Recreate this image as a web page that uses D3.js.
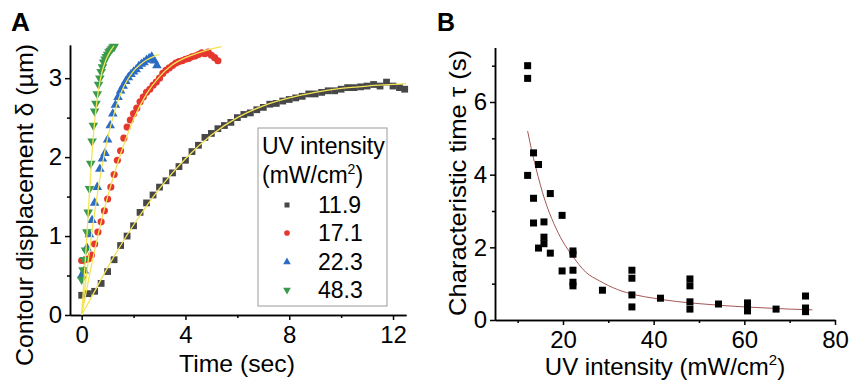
<!DOCTYPE html>
<html>
<head>
<meta charset="utf-8">
<script src="https://cdn.jsdelivr.net/npm/d3@7"></script>
<style>
  body { margin: 0; background: #fff; }
  text { font-family: "Liberation Sans", Arial, sans-serif; }
</style>
</head>
<body>
<div id="chart"></div>
<script>
// ---- Panel A data: contour displacement vs time, per UV intensity ----
var timeGray = [0, 0.25, 0.5, 0.75, 1.0, 1.25, 1.5, 1.75, 2.0, 2.25, 2.5, 2.75, 3.0, 3.25, 3.5, 3.75, 4.0, 4.25, 4.5, 4.75,
    5.0, 5.25, 5.5, 5.75, 6.0, 6.25, 6.5, 6.75, 7.0, 7.25, 7.5, 7.75, 8.0, 8.25, 8.5, 8.75, 9.0, 9.25, 9.5, 9.75,
    10.0, 10.25, 10.5, 10.75, 11.0, 11.25, 11.5, 11.75, 12.0, 12.25, 12.45];
var dispGray = [0.25, 0.27, 0.30, 0.40, 0.55, 0.70, 0.88, 1.00, 1.13, 1.30, 1.42, 1.52, 1.62, 1.70, 1.80, 1.88, 1.96, 2.07, 2.15, 2.25,
    2.30, 2.36, 2.40, 2.44, 2.50, 2.54, 2.56, 2.60, 2.63, 2.67, 2.68, 2.71, 2.73, 2.75, 2.77, 2.80, 2.80, 2.82, 2.84, 2.84,
    2.86, 2.88, 2.88, 2.89, 2.90, 2.92, 2.90, 2.95, 2.90, 2.88, 2.86];

var timeRed = [0, 0.125, 0.25, 0.375, 0.5, 0.625, 0.75, 0.875, 1.0, 1.125, 1.25, 1.375, 1.5, 1.625, 1.75, 1.875, 2.0, 2.125, 2.25, 2.375, 2.5,
    2.625, 2.75, 2.875, 3.0, 3.125, 3.25, 3.375, 3.5, 3.625, 3.75, 3.875, 4.0, 4.125, 4.25, 4.375, 4.5, 4.625, 4.75, 4.875, 5.0, 5.125, 5.25];
var dispRed = [0.69, 0.70, 0.71, 0.76, 0.90, 1.05, 1.18, 1.32, 1.47, 1.62, 1.78, 1.96, 2.08, 2.24, 2.38, 2.47, 2.55, 2.62, 2.70, 2.76, 2.82,
    2.86, 2.91, 2.95, 3.00, 3.06, 3.10, 3.13, 3.16, 3.19, 3.21, 3.22, 3.24, 3.25, 3.27, 3.28, 3.30, 3.32, 3.31, 3.33, 3.29, 3.26, 3.22];

var timeBlue = [0, 0.1, 0.2, 0.3, 0.4, 0.5, 0.6, 0.7, 0.8, 0.9, 1.0, 1.1, 1.2, 1.3, 1.4, 1.5, 1.6, 1.7, 1.8, 1.9,
    2.0, 2.1, 2.2, 2.3, 2.4, 2.5, 2.6, 2.7, 2.8, 2.9];
var dispBlue = [0.50, 0.56, 0.85, 1.02, 1.20, 1.42, 1.62, 1.85, 1.98, 2.05, 2.22, 2.40, 2.55, 2.66, 2.76, 2.84, 2.90, 2.96, 3.01, 3.05,
    3.08, 3.11, 3.15, 3.18, 3.20, 3.23, 3.25, 3.27, 3.22, 3.16];

var timeGreen = [0, 0.05, 0.1, 0.15, 0.2, 0.25, 0.3, 0.35, 0.4, 0.45, 0.5, 0.55, 0.6, 0.65, 0.7, 0.75, 0.8, 0.85, 0.9, 0.95,
    1.0, 1.05, 1.1, 1.15, 1.2, 1.25];
var dispGreen = [0.45, 0.57, 0.70, 0.82, 1.05, 1.30, 1.60, 1.92, 2.20, 2.40, 2.58, 2.68, 2.80, 2.92, 3.00, 3.08, 3.14, 3.20, 3.24, 3.27,
    3.30, 3.33, 3.35, 3.37, 3.39, 3.40];

// fitted curves (yellow)
var fitTimeGray = [0, 0.5, 1, 1.5, 2, 2.5, 3, 3.5, 4, 5, 6, 7, 8, 9, 10, 11, 12, 12.5];
var fitGray = [0, 0.3, 0.6, 0.88, 1.14, 1.38, 1.6, 1.8, 1.98, 2.28, 2.5, 2.65, 2.75, 2.82, 2.87, 2.9, 2.92, 2.93];
var fitTimeRed = [0, 0.25, 0.5, 0.75, 1, 1.25, 1.5, 2, 2.5, 3, 3.5, 4, 4.5, 5, 5.4];
var fitRed = [0, 0.42, 0.82, 1.18, 1.5, 1.78, 2.04, 2.48, 2.8, 3.02, 3.17, 3.26, 3.32, 3.37, 3.4];
var fitTimeBlue = [0, 0.25, 0.5, 0.75, 1, 1.25, 1.5, 1.75, 2, 2.25, 2.5, 2.75, 3.0];
var fitBlue = [0, 0.68, 1.3, 1.82, 2.24, 2.55, 2.8, 2.97, 3.09, 3.17, 3.23, 3.27, 3.3];
var fitTimeGreen = [0, 0.1, 0.2, 0.3, 0.4, 0.5, 0.6, 0.7, 0.8, 0.9, 1.0, 1.1, 1.2, 1.25];
var fitGreen = [0, 0.5, 1.0, 1.55, 2.05, 2.45, 2.74, 2.95, 3.1, 3.2, 3.28, 3.34, 3.39, 3.41];

var legendLabels = ["11.9", "17.1", "22.3", "48.3"];
var xTicksA = [0, 4, 8, 12], xMinorA = [2, 6, 10];
var yTicksA = [0, 1, 2, 3], yMinorA = [0.5, 1.5, 2.5];

// ---- Panel B data: characteristic time vs UV intensity ----
var intensityB = [12.2, 12.2, 12.2, 13.5, 14.6, 17.2, 13.5, 13.5, 15.8, 19.8, 15.8, 15.8, 14.6, 17.2, 22.2, 22.2, 19.8, 22.2, 22.2, 22.2,
    28.7, 35.2, 35.2, 35.2, 35.2, 41.5, 48, 48, 48, 48, 54.3, 60.7, 60.7, 60.7, 67, 73.5, 73.5, 73.5];
var tauB = [7.0, 6.65, 3.98, 4.6, 4.28, 3.48, 3.35, 2.67, 2.7, 2.88, 2.28, 2.1, 1.98, 1.84, 1.9, 1.81, 1.35, 1.37, 1.04, 0.94,
    0.82, 1.37, 1.15, 0.69, 0.36, 0.6, 1.13, 0.94, 0.5, 0.3, 0.44, 0.47, 0.38, 0.25, 0.3, 0.66, 0.33, 0.23];
var fitIntensity = [12.2, 13, 14, 15, 16, 17, 18, 20, 22, 25, 28, 32, 36, 40, 45, 50, 55, 60, 65, 70, 75];
var fitTau = [5.2, 4.72, 4.2, 3.72, 3.3, 2.95, 2.65, 2.15, 1.78, 1.32, 1.08, 0.84, 0.69, 0.6, 0.51, 0.45, 0.4, 0.36, 0.33, 0.3, 0.28];
var xTicksB = [20, 40, 60, 80], xMinorB = [10, 30, 50, 70];
var yTicksB = [0, 2, 4, 6], yMinorB = [1, 3, 5, 7];

var colors = ["#474747", "#e5372e", "#2b6cc4", "#3a9a4c"];
var fitColor = "#f3e555";

var svg = d3.select("#chart").append("svg")
    .attr("width", 850)
    .attr("height", 387);

function zip(a, b) { return a.map(function (v, i) { return [v, b[i]]; }); }

function styleAxis(g) {
    g.attr("font-family", null).attr("font-size", null);
    g.selectAll("path, line").attr("stroke", "#000").attr("stroke-width", 1.5);
    g.selectAll("text").attr("fill", "#000").style("font-size", "24px");
}

function drawAxes(x, y, xt, xm, yt, ym) {
    var h = y.range()[0], l = x.range()[0];
    var gx = svg.append("g").attr("transform", "translate(0," + h + ")")
        .call(d3.axisBottom(x).tickValues(xt).tickSize(5).tickSizeOuter(0).tickFormat(d3.format("d")));
    styleAxis(gx);
    gx.selectAll("text").attr("y", 28).attr("dy", 0);
    var gxm = svg.append("g").attr("transform", "translate(0," + h + ")")
        .call(d3.axisBottom(x).tickValues(xm).tickSize(3).tickSizeOuter(0).tickFormat(""));
    styleAxis(gxm);
    var gy = svg.append("g").attr("transform", "translate(" + l + ",0)")
        .call(d3.axisLeft(y).tickValues(yt).tickSize(5).tickSizeOuter(0).tickFormat(d3.format("d")));
    styleAxis(gy);
    gy.selectAll("text").attr("x", -8);
    var gym = svg.append("g").attr("transform", "translate(" + l + ",0)")
        .call(d3.axisLeft(y).tickValues(ym).tickSize(3).tickSizeOuter(0).tickFormat(""));
    styleAxis(gym);
}

// ================= Panel A =================
var xA = d3.scaleLinear().domain([-0.45, 12.5]).range([70, 406]);
var yA = d3.scaleLinear().domain([0, 3.42]).range([315, 45]);

drawAxes(xA, yA, xTicksA, xMinorA, yTicksA, yMinorA);

var symbols = [
    d3.symbol().type(d3.symbolSquare).size(46),
    d3.symbol().type(d3.symbolCircle).size(40),
    d3.symbol().type(d3.symbolTriangle).size(40),
    d3.symbol().type(d3.symbolTriangle).size(40)
];
var seriesA = [zip(timeGray, dispGray), zip(timeRed, dispRed), zip(timeBlue, dispBlue), zip(timeGreen, dispGreen)];
var fitsA = [zip(fitTimeGray, fitGray), zip(fitTimeRed, fitRed), zip(fitTimeBlue, fitBlue), zip(fitTimeGreen, fitGreen)];

seriesA.forEach(function (data, k) {
    svg.append("g").selectAll("path")
        .data(data)
        .enter()
        .append("path")
        .attr("d", symbols[k])
        .attr("transform", function (d) {
            return "translate(" + xA(d[0]) + "," + yA(d[1]) + ")" + (k == 3 ? " rotate(180)" : "");
        })
        .attr("fill", colors[k]);
});

var lineA = d3.line().x(function (d) { return xA(d[0]); }).y(function (d) { return yA(d[1]); }).curve(d3.curveMonotoneX);
fitsA.forEach(function (f) {
    svg.append("path").datum(f)
        .attr("d", lineA)
        .attr("fill", "none")
        .attr("stroke", fitColor)
        .attr("stroke-width", 1.3);
});

// Legend
svg.append("rect")
    .attr("x", 258).attr("y", 128).attr("width", 129).attr("height", 178)
    .attr("fill", "#fff").attr("stroke", "#9a9a9a").attr("stroke-width", 1);
svg.append("text").attr("x", 262).attr("y", 154).style("font-size", "23px").text("UV intensity");
var unitA = svg.append("text").attr("x", 262).attr("y", 183).style("font-size", "23px");
unitA.append("tspan").text("(mW/cm");
unitA.append("tspan").attr("dy", -9).style("font-size", "14px").text("2");
unitA.append("tspan").attr("dy", 9).text(")");

var legSymbols = [
    d3.symbol().type(d3.symbolSquare).size(25),
    d3.symbol().type(d3.symbolCircle).size(25),
    d3.symbol().type(d3.symbolTriangle).size(25),
    d3.symbol().type(d3.symbolTriangle).size(25)
];
var legY = [205, 233, 262, 290];
legendLabels.forEach(function (lab, k) {
    svg.append("path")
        .attr("d", legSymbols[k])
        .attr("transform", "translate(287," + legY[k] + ")" + (k == 3 ? " rotate(180)" : ""))
        .attr("fill", colors[k]);
    svg.append("text").attr("x", 318).attr("y", legY[k] + 8).style("font-size", "23px").text(lab);
});

// titles
svg.append("text").attr("x", 11).attr("y", 31).style("font-size", "25px").attr("font-weight", "bold")
    .attr("textLength", 19).attr("lengthAdjust", "spacingAndGlyphs").text("A");
svg.append("text").attr("x", 237).attr("y", 372).attr("text-anchor", "middle")
    .attr("textLength", 116).attr("lengthAdjust", "spacingAndGlyphs")
    .style("font-size", "24px").text("Time (sec)");
svg.append("text")
    .attr("transform", "translate(33,205) rotate(-90)")
    .attr("text-anchor", "middle")
    .attr("textLength", 322).attr("lengthAdjust", "spacingAndGlyphs")
    .style("font-size", "24px")
    .text("Contour displacement δ (µm)");

// ================= Panel B =================
var xB = d3.scaleLinear().domain([5, 80]).range([495, 835]);
var yB = d3.scaleLinear().domain([0, 7.5]).range([320, 47.5]);

drawAxes(xB, yB, xTicksB, xMinorB, yTicksB, yMinorB);

svg.append("path").datum(zip(fitIntensity, fitTau))
    .attr("d", d3.line().x(function (d) { return xB(d[0]); }).y(function (d) { return yB(d[1]); }).curve(d3.curveMonotoneX))
    .attr("fill", "none")
    .attr("stroke", "#a65656")
    .attr("stroke-width", 1);

svg.append("g").selectAll("rect")
    .data(zip(intensityB, tauB))
    .enter()
    .append("rect")
    .attr("x", function (d) { return xB(d[0]) - 3.5; })
    .attr("y", function (d) { return yB(d[1]) - 3.5; })
    .attr("width", 7)
    .attr("height", 7)
    .attr("fill", "#000");

svg.append("text").attr("x", 437).attr("y", 31).style("font-size", "25px").attr("font-weight", "bold")
    .attr("textLength", 18).attr("lengthAdjust", "spacingAndGlyphs").text("B");
var xtB = svg.append("text").attr("x", 665).attr("y", 375).attr("text-anchor", "middle").style("font-size", "24px");
xtB.append("tspan").text("UV intensity (mW/cm");
xtB.append("tspan").attr("dy", -10).style("font-size", "15px").text("2");
xtB.append("tspan").attr("dy", 10).text(")");
svg.append("text")
    .attr("transform", "translate(466,183) rotate(-90)")
    .attr("text-anchor", "middle")
    .attr("textLength", 266).attr("lengthAdjust", "spacingAndGlyphs")
    .style("font-size", "24px")
    .text("Characteristic time τ (s)");
</script>
</body>
</html>
